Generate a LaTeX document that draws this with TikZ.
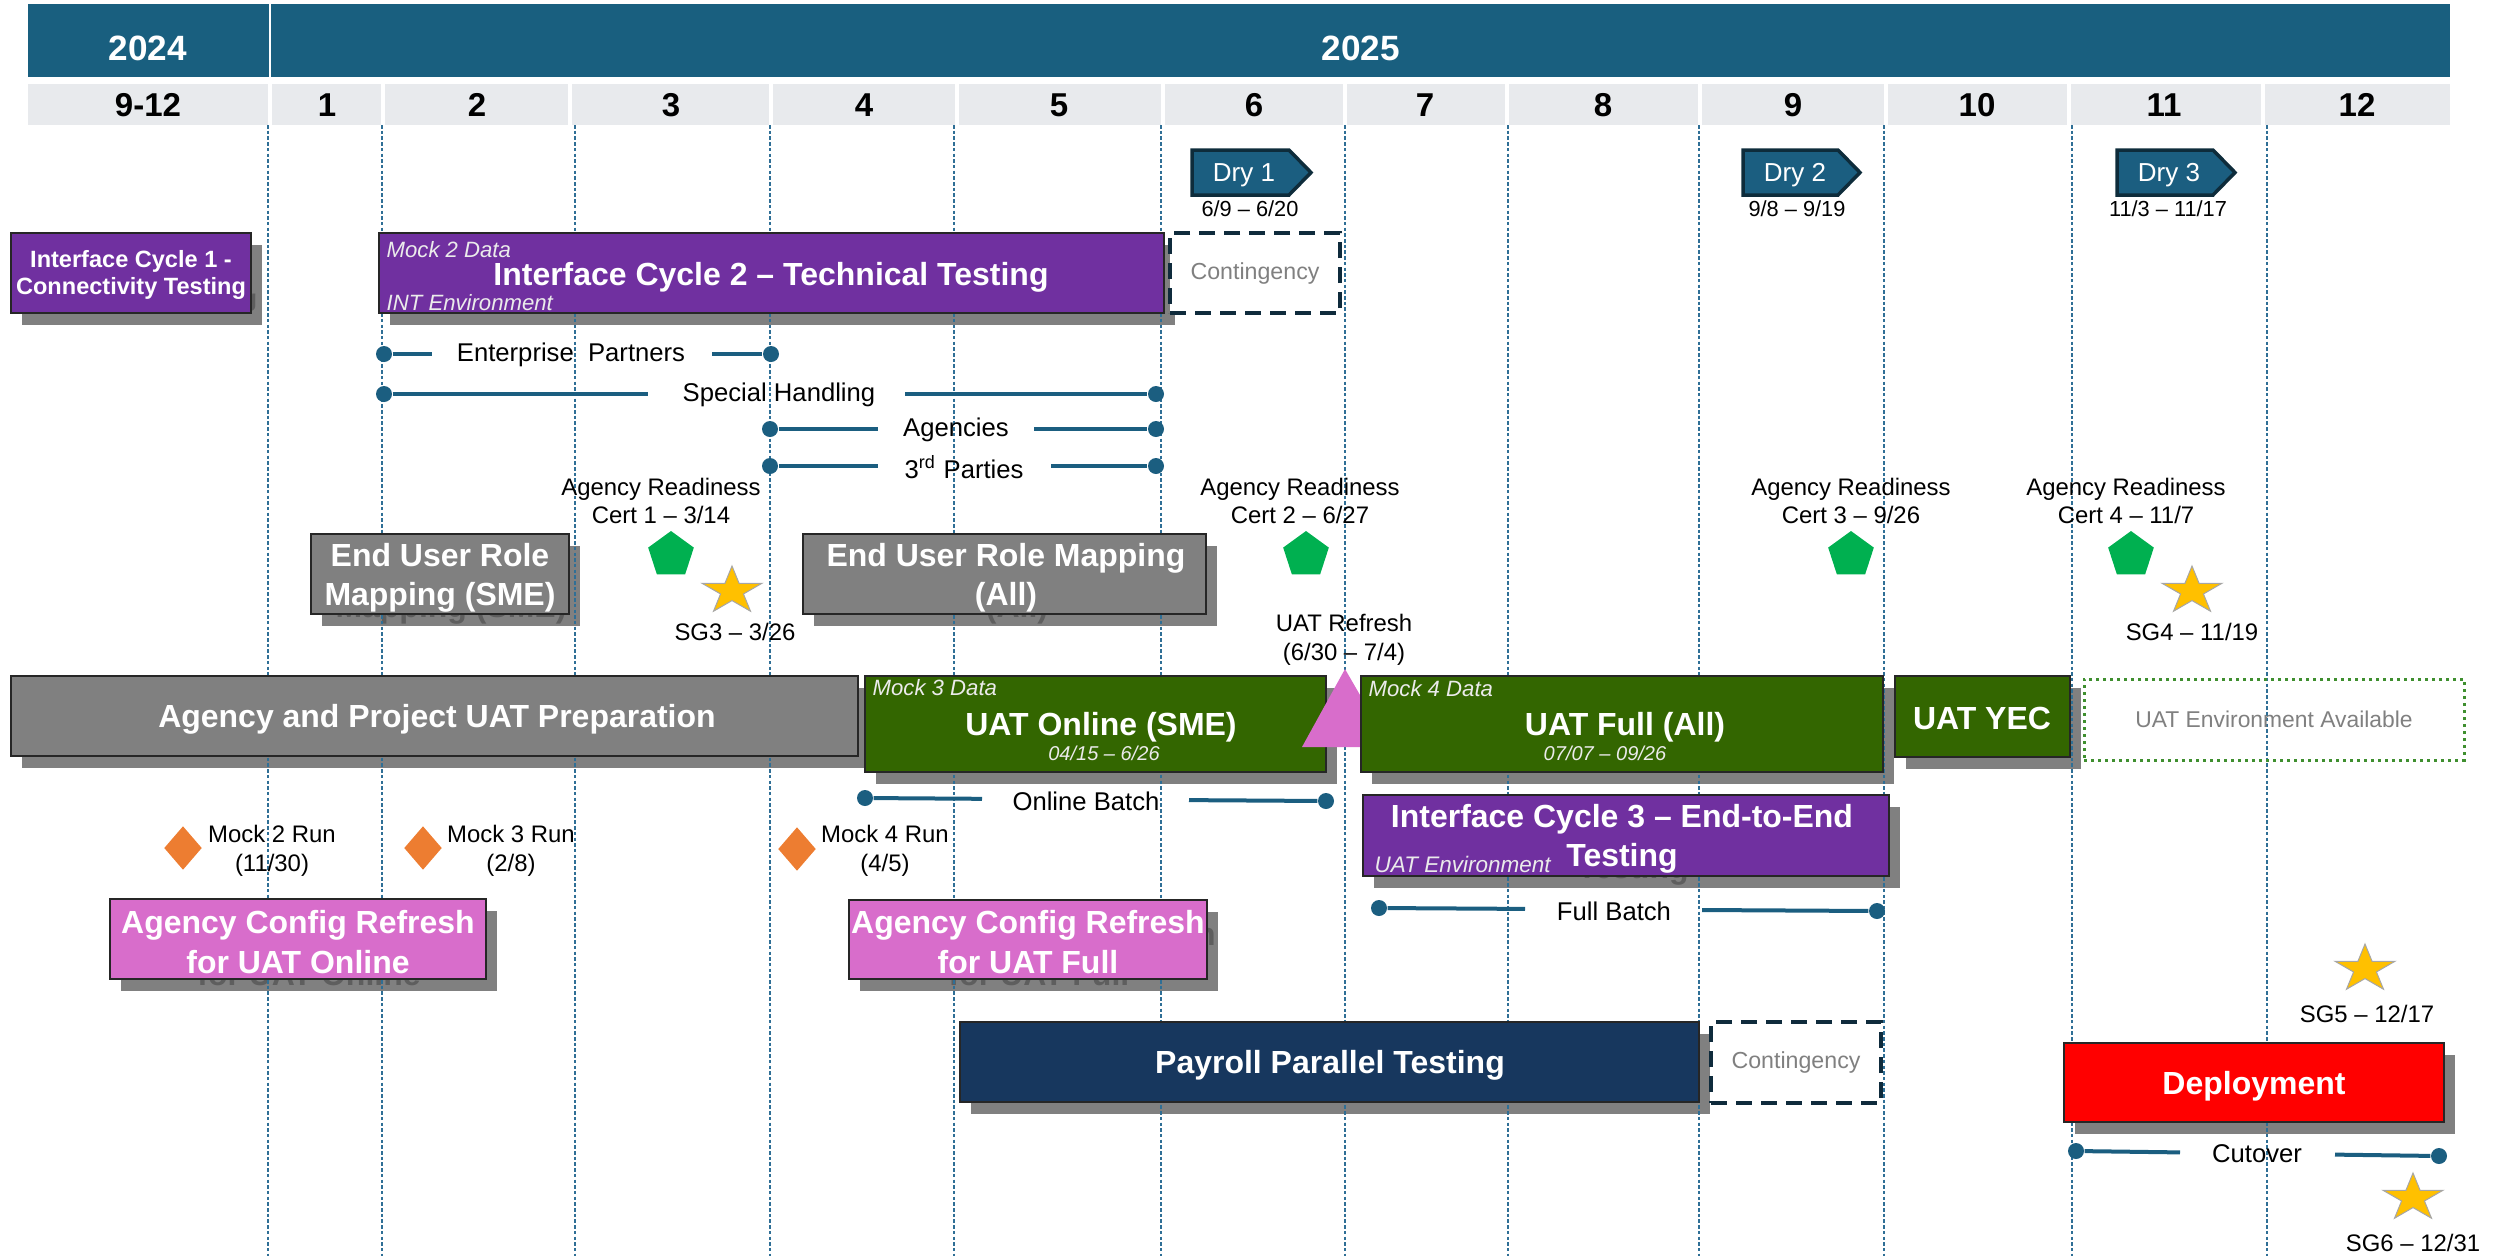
\documentclass[tikz,border=0pt]{standalone}
\usepackage{fontspec}
\setmainfont{Liberation Sans}
\usetikzlibrary{shapes.geometric}
\pgfdeclarelayer{shadowlayer}
\pgfdeclarelayer{gridlayer}
\pgfsetlayers{shadowlayer,gridlayer,main}

\definecolor{yearblue}{HTML}{195F7F}
\definecolor{monthgray}{HTML}{E8EAED}
\definecolor{gridc}{HTML}{2F6F96}
\definecolor{purplec}{HTML}{7030A0}
\definecolor{grayc}{HTML}{808080}
\definecolor{shadowc}{HTML}{808080}
\definecolor{shadowtxt}{HTML}{5E5E5E}
\definecolor{greenc}{HTML}{336600}
\definecolor{pinkc}{HTML}{D86DCB}
\definecolor{navyc}{HTML}{17375E}
\definecolor{redc}{HTML}{FF0000}
\definecolor{tealc}{HTML}{1B5E80}
\definecolor{drydark}{HTML}{0E2C3B}
\definecolor{contc}{HTML}{0F2B3C}
\definecolor{dotgreen}{HTML}{3F8F2F}
\definecolor{pentc}{HTML}{00B050}
\definecolor{starc}{HTML}{FFC000}
\definecolor{orangec}{HTML}{ED7D31}
\definecolor{lighttxt}{HTML}{808080}

\newcommand\fsz[2]{\fontsize{#1}{#2}\selectfont}
\newcommand\bigbold{\fsz{9.1pt}{11.2pt}\bfseries}
\newcommand\smallbold{\fsz{6.7pt}{7.9pt}\bfseries}

% box with drop shadow: name, x1, y1, x2, y2, fill
\newcommand\taskrect[6]{%
  \begin{pgfonlayer}{shadowlayer}
    \fill[shadowc] (#2+11,#3+12) rectangle (#4+11,#5+12);
  \end{pgfonlayer}
  \node[taskbox, fill=#6, minimum width={(#4-#2)*0.1mm}, minimum height={(#5-#3)*0.1mm}] (#1) at ({(#2+#4)/2},{(#3+#5)/2}) {};
}
% box text: name, x, y, font, text
\newcommand\boxtext[5]{%
  \node[txtbase, text=white, font=#4] (#1) at (#2,#3) {#5};
}
% box text with the shadow copy that peeks out below the box
\newcommand\boxtextsh[5]{%
  \begin{pgfonlayer}{shadowlayer}
    \node[txtbase, text=shadowtxt, font=#4] at (#2+11,#3+12) {#5};
  \end{pgfonlayer}
  \node[txtbase, text=white, font=#4] (#1) at (#2,#3) {#5};
}
% star: name, x, y
\newcommand\sgstar[3]{%
  \coordinate (#1) at (#2,#3);
  \filldraw[fill=starc, draw=black!35, line width=0.1mm, shift={(#2,#3)}, xscale=31.5, yscale=-25]
    (90:1) -- (126:0.382) -- (162:1) -- (198:0.382) -- (234:1) -- (270:0.382)
    -- (306:1) -- (342:0.382) -- (18:1) -- (54:0.382) -- cycle;
}

\tikzset{
  gridline/.style={draw=gridc, line width=0.12mm, dash pattern=on 0.35mm off 0.22mm},
  taskbox/.style={rectangle, draw=black!85, line width=0.15mm, inner sep=0pt},
  txtbase/.style={inner sep=0pt, align=center},
  itlabel/.style={inner sep=0pt, text=white!92!black, font=\fsz{6.3pt}{7.5pt}\itshape},
  itdate/.style={inner sep=0pt, text=white!92!black, font=\fsz{5.7pt}{7pt}\itshape},
  smalllabel/.style={inner sep=0pt, align=center, font=\fsz{6.8pt}{8.2pt}},
  linelabel/.style={inner sep=0pt, font=\fsz{7.3pt}{8.5pt}},
  dotl/.style={draw=tealc, line width=0.4mm},
  dotend/.style={circle, fill=tealc, minimum size=1.6mm, inner sep=0pt},
  contbox/.style={rectangle, draw=contc, line width=0.35mm, dash pattern=on 1.6mm off 0.9mm, fill=white, text=lighttxt, font=\fsz{6.6pt}{8pt}, inner sep=0pt},
  dryshape/.style={fill=tealc, draw=drydark, line width=0.35mm, line join=miter},
  drytext/.style={text=white, font=\fsz{7.4pt}{8pt}, inner sep=0pt},
  drydate/.style={font=\fsz{6.2pt}{7pt}, inner sep=0pt},
  pent/.style={regular polygon, regular polygon sides=5, fill=pentc, minimum size=4.8mm, inner sep=0pt},
  mockdia/.style={diamond, fill=orangec, minimum width=3.8mm, minimum height=4.4mm, inner sep=0pt},
  yeartext/.style={text=white, font=\fsz{10pt}{12pt}\bfseries, inner sep=0pt},
  monthtext/.style={font=\fsz{9.4pt}{11pt}\bfseries, inner sep=0pt},
}

\begin{document}
\begin{tikzpicture}[x=0.1mm,y=-0.1mm]
\useasboundingbox (0,0) rectangle (2496,1256);

% ---------- header ----------
\fill[yearblue] (28,4) rectangle (269,77);
\fill[yearblue] (271,4) rectangle (2450,77);
\node[yeartext] (y2024) at (148,48) {2024};
\node[yeartext] (y2025) at (1361,48) {2025};

\foreach \a/\b/\c/\t [count=\i] in {
  28/268/148/9-12, 272/381/327/1, 385/568/477/2, 572/769/671/3,
  773/955/864/4, 959/1161/1059/5, 1165/1343/1254/6, 1347/1505/1425/7,
  1509/1698/1603/8, 1702/1884/1793/9, 1888/2067/1977/10,
  2071/2261/2164/11, 2265/2450/2357/12}{
  \fill[monthgray] (\a,84) rectangle (\b,125);
  \node[monthtext] (m\i) at (\c,105) {\t};
}

% ---------- grid ----------
\begin{pgfonlayer}{gridlayer}
\foreach \gx [count=\i] in {268,382,575,770,954,1161,1345,1508,1699,1884,2072,2267}{
  \coordinate (gt\i) at (\gx,125);
  \coordinate (gb\i) at (\gx,1256);
  \draw[gridline] (gt\i) -- (gb\i);
}
\end{pgfonlayer}

% ---------- dry runs ----------
\filldraw[dryshape] (1192,150) -- (1289,150) -- (1311,172.5) -- (1289,195) -- (1192,195) -- cycle;
\node[drytext] (dry1) at (1244,175) {Dry 1};
\node[drydate] (dry1d) at (1250,209) {6/9 – 6/20};
\filldraw[dryshape] (1743,150) -- (1838,150) -- (1860,172.5) -- (1838,195) -- (1743,195) -- cycle;
\node[drytext] (dry2) at (1795,175) {Dry 2};
\node[drydate] (dry2d) at (1797,209) {9/8 – 9/19};
\filldraw[dryshape] (2117,150) -- (2213,150) -- (2235,172.5) -- (2213,195) -- (2117,195) -- cycle;
\node[drytext] (dry3) at (2169,175) {Dry 3};
\node[drydate] (dry3d) at (2168,209) {11/3 – 11/17};

% ---------- interface cycles 1 & 2 ----------
\taskrect{ic1}{11}{233}{251}{313}{purplec}
\boxtextsh{ic1t}{131}{275}{\smallbold}{Interface Cycle 1 -\\Connectivity Testing}
\taskrect{ic2}{379}{233}{1164}{313}{purplec}
\boxtext{ic2t}{771}{277}{\bigbold}{Interface Cycle 2 – Technical Testing}
\node[itlabel, anchor=west] (ic2a) at (386,250) {Mock 2 Data};
\node[itlabel, anchor=west] (ic2b) at (386,303) {INT Environment};
\node[contbox, minimum width=17mm, minimum height=8mm] (cont1) at (1255,273) {Contingency};

% ---------- dot lines ----------
\node[dotend] (epL) at (384,354) {};  \node[dotend] (epR) at (771,354) {};
\node[linelabel] (ep) at (571,355) {Enterprise~~Partners};
\coordinate (epa) at (432,354); \coordinate (epb) at (712,354);
\draw[dotl] (epL) -- (epa); \draw[dotl] (epb) -- (epR);

\node[dotend] (shL) at (384,394) {};  \node[dotend] (shR) at (1156,394) {};
\node[linelabel] (sh) at (779,395) {Special Handling};
\coordinate (sha) at (648,394); \coordinate (shb) at (905,394);
\draw[dotl] (shL) -- (sha); \draw[dotl] (shb) -- (shR);

\node[dotend] (agL) at (770,429) {};  \node[dotend] (agR) at (1156,429) {};
\node[linelabel] (ag) at (956,430) {Agencies};
\coordinate (aga) at (878,429); \coordinate (agb) at (1034,429);
\draw[dotl] (agL) -- (aga); \draw[dotl] (agb) -- (agR);

\node[dotend] (tpL) at (770,466) {};  \node[dotend] (tpR) at (1156,466) {};
\node[linelabel] (tp) at (964,467) {3\textsuperscript{rd} Parties};
\coordinate (tpa) at (878,466); \coordinate (tpb) at (1051,466);
\draw[dotl] (tpL) -- (tpa); \draw[dotl] (tpb) -- (tpR);

% ---------- readiness / stars ----------
\node[smalllabel] (ar1) at (661,501) {Agency Readiness\\Cert 1 – 3/14};
\node[pent] (p1) at (671,555) {};
\node[smalllabel] (ar2) at (1300,501) {Agency Readiness\\Cert 2 – 6/27};
\node[pent] (p2) at (1306,555) {};
\node[smalllabel] (ar3) at (1851,501) {Agency Readiness\\Cert 3 – 9/26};
\node[pent] (p3) at (1851,555) {};
\node[smalllabel] (ar4) at (2126,501) {Agency Readiness\\Cert 4 – 11/7};
\node[pent] (p4) at (2131,555) {};

\sgstar{sg3}{732}{591}
\node[smalllabel] (sg3t) at (735,632) {SG3 – 3/26};
\sgstar{sg4}{2192}{591}
\node[smalllabel] (sg4t) at (2192,632) {SG4 – 11/19};
\sgstar{sg5}{2365}{969}
\node[smalllabel] (sg5t) at (2367,1014) {SG5 – 12/17};
\sgstar{sg6}{2413}{1198}
\node[smalllabel] (sg6t) at (2413,1243) {SG6 – 12/31};

% ---------- end user role mapping ----------
\taskrect{eur1}{311}{534}{569}{614}{grayc}
\boxtextsh{eur1t}{440}{578}{\bigbold}{End User Role\\Mapping (SME)}
\taskrect{eur2}{803}{534}{1206}{614}{grayc}
\boxtextsh{eur2t}{1006}{578}{\bigbold}{End User Role Mapping\\(All)}

% ---------- UAT row ----------
\node[smalllabel] (uatr) at (1344,640) {UAT Refresh\\(6/30 – 7/4)};

\taskrect{prep}{11}{676}{858}{756}{grayc}
\boxtext{prept}{437}{719}{\bigbold}{Agency and Project UAT Preparation}

\taskrect{uon}{865}{676}{1326}{772}{greenc}
\boxtext{uont}{1101}{727}{\bigbold}{UAT Online (SME)}
\node[itlabel, anchor=west] (uona) at (872,688) {Mock 3 Data};
\node[itdate] (uond) at (1104,753) {04/15 – 6/26};

\fill[pinkc] (1345,669) -- (1390,747) -- (1302,747) -- cycle;
\coordinate (tri) at (1345,720);

\taskrect{ufl}{1361}{676}{1883}{772}{greenc}
\boxtext{uflt}{1625}{727}{\bigbold}{UAT Full (All)}
\node[itlabel, anchor=west] (ufla) at (1368,689) {Mock 4 Data};
\node[itdate] (ufld) at (1605,753) {07/07 – 09/26};

\taskrect{yec}{1895}{676}{2070}{757}{greenc}
\boxtext{yect}{1982}{718}{\bigbold}{UAT YEC}

\node[rectangle, draw=dotgreen, line width=0.3mm, dash pattern=on 0.27mm off 0.43mm,
      minimum width=38mm, minimum height=8.1mm, inner sep=0pt,
      text=lighttxt, font=\fsz{6.5pt}{8pt}] (env) at (2274,719.5) {UAT Environment Available};

% online batch
\node[dotend] (obL) at (865,798) {};  \node[dotend] (obR) at (1326,801) {};
\node[linelabel] (ob) at (1086,801) {Online Batch};
\coordinate (oba) at (982,798.8); \coordinate (obb) at (1189,800.1);
\draw[dotl] (obL) -- (oba); \draw[dotl] (obb) -- (obR);

% ---------- interface cycle 3 ----------
\taskrect{ic3}{1363}{795}{1889}{876}{purplec}
\boxtextsh{ic3t}{1622}{839}{\bigbold}{Interface Cycle 3 – End-to-End\\Testing}
\node[itlabel, anchor=west, font=\fsz{6.4pt}{7.5pt}\itshape] (ic3a) at (1374,864) {UAT Environment};

\node[dotend] (fbL) at (1379,908) {};  \node[dotend] (fbR) at (1877,911) {};
\node[linelabel] (fb) at (1614,911) {Full Batch};
\coordinate (fba) at (1525,908.9); \coordinate (fbb) at (1702,910);
\draw[dotl] (fbL) -- (fba); \draw[dotl] (fbb) -- (fbR);

% ---------- mock runs ----------
\node[mockdia] (mr2) at (183,848) {};
\node[smalllabel] (mr2t) at (272,851) {Mock 2 Run\\(11/30)};
\node[mockdia] (mr3) at (423,848) {};
\node[smalllabel] (mr3t) at (511,851) {Mock 3 Run\\(2/8)};
\node[mockdia] (mr4) at (797,849) {};
\node[smalllabel] (mr4t) at (885,851) {Mock 4 Run\\(4/5)};

% ---------- agency config refresh ----------
\taskrect{acr1}{110}{899}{486}{979}{pinkc}
\boxtextsh{acr1t}{298}{942}{\bigbold}{Agency Config Refresh\\for UAT Online}
\taskrect{acr2}{849}{900}{1207}{979}{pinkc}
\boxtextsh{acr2t}{1028}{942}{\bigbold}{Agency Config Refresh\\for UAT Full}

% ---------- payroll / deployment ----------
\taskrect{pay}{960}{1022}{1699}{1102}{navyc}
\boxtext{payt}{1330}{1065}{\bigbold}{Payroll Parallel Testing}
\node[contbox, minimum width=17mm, minimum height=8.1mm] (cont2) at (1796,1062.5) {Contingency};

\taskrect{dep}{2064}{1043}{2444}{1122}{redc}
\boxtext{dept}{2254}{1086}{\bigbold}{Deployment}

\node[dotend] (coL) at (2076,1151) {};  \node[dotend] (coR) at (2439,1156) {};
\node[linelabel] (co) at (2257,1154) {Cutover};
\coordinate (coa) at (2180,1152.4); \coordinate (cob) at (2335,1154.6);
\draw[dotl] (coL) -- (coa); \draw[dotl] (cob) -- (coR);

\end{tikzpicture}
\end{document}
